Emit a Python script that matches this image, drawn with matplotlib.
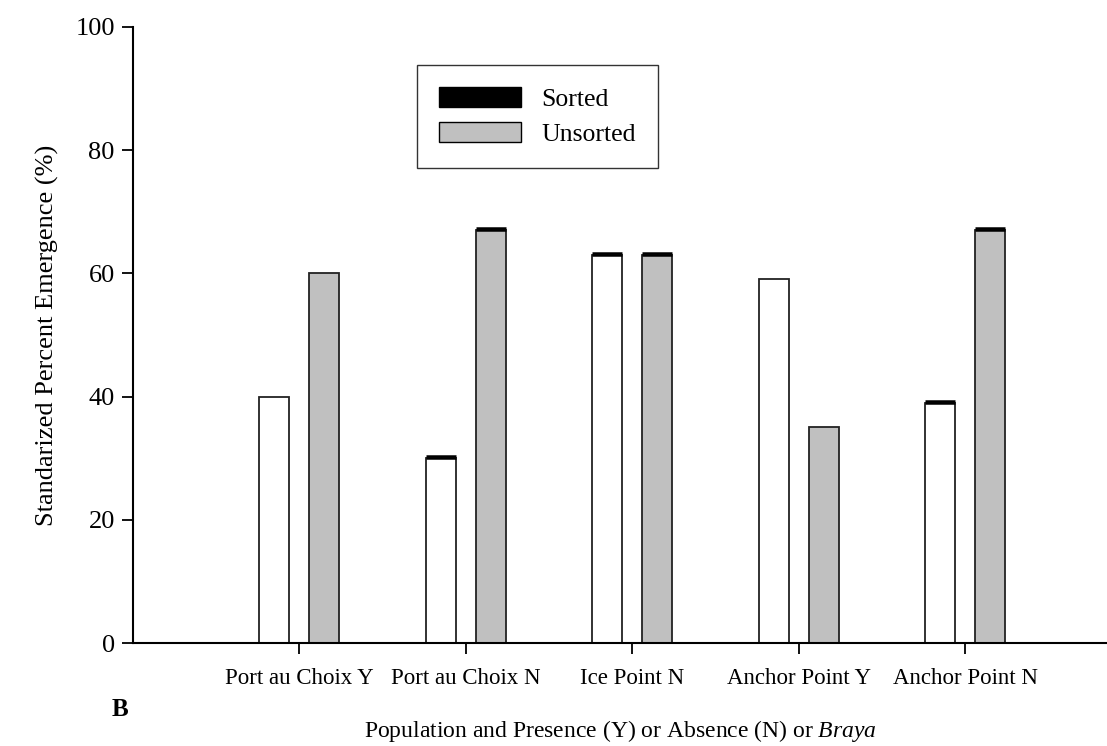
import matplotlib
matplotlib.use("Agg")
import matplotlib.pyplot as plt
import numpy as np
from matplotlib.patches import Patch

plt.rcParams['font.family'] = ['Liberation Serif', 'DejaVu Serif']
plt.rcParams['mathtext.fontset'] = 'custom'
plt.rcParams['mathtext.rm'] = 'Liberation Serif'
plt.rcParams['mathtext.it'] = 'Liberation Serif:italic'

categories = ["Port au Choix Y", "Port au Choix N", "Ice Point N",
              "Anchor Point Y", "Anchor Point N"]
sorted_vals = [40, 30, 63, 59, 39]
unsorted_vals = [60, 67, 63, 35, 67]
sorted_err = [0.0, 0.3, 0.3, 0.0, 0.3]
unsorted_err = [0.0, 0.3, 0.3, 0.0, 0.3]
y_ticks = [0, 20, 40, 60, 80, 100]

fig = plt.figure(figsize=(11.07, 7.46), dpi=100)
ax = fig.add_axes([0.120, 0.138, 0.880, 0.826])

x = np.arange(len(categories))
w = 0.18
off = 0.15


def draw_series(pos, vals, errs, color):
    vals = np.asarray(vals, dtype=float)
    errs = np.asarray(errs, dtype=float)
    ax.bar(pos, vals, w, color=color, edgecolor='#222222', linewidth=1.3, zorder=2)
    m = errs > 0
    ax.errorbar(pos[m], vals[m], yerr=[np.zeros(m.sum()), errs[m]], fmt='none',
                ecolor='black', elinewidth=1.0, capsize=11, capthick=1.8, zorder=3)


draw_series(x - off, sorted_vals, sorted_err, 'white')
draw_series(x + off, unsorted_vals, unsorted_err, '#c0c0c0')

ax.set_xlim(-1, 4.85)
ax.set_ylim(0, 100)
ax.set_yticks(y_ticks)
ax.set_yticklabels([str(t) for t in y_ticks], fontsize=19)
ax.set_xticks(x)
ax.set_xticklabels(categories, fontsize=16.5)
ax.tick_params(axis='both', direction='out', length=8, width=1.3, color='black')
ax.tick_params(axis='x', pad=10)
ax.tick_params(axis='y', pad=5)

for s in ['top', 'right']:
    ax.spines[s].set_visible(False)
for s in ['left', 'bottom']:
    ax.spines[s].set_linewidth(1.5)

ax.set_ylabel("Standarized Percent Emergence (%)", fontsize=19, labelpad=12)
ax.set_xlabel("Population and Presence (Y) or Absence (N) or $\\it{Braya}$",
              fontsize=17, labelpad=21)

handles = [Patch(facecolor='black', edgecolor='black', label='Sorted'),
           Patch(facecolor='#c0c0c0', edgecolor='black', label='Unsorted')]
leg = ax.legend(handles=handles, loc='upper left', bbox_to_anchor=(0.2916, 0.938),
                fontsize=18.5, frameon=True, fancybox=False, handlelength=3.2,
                handleheight=0.8, borderpad=0.85, labelspacing=0.45, handletextpad=0.8,
                borderaxespad=0)
leg.get_frame().set_edgecolor('black')
leg.get_frame().set_linewidth(1.0)

fig.text(0.108, 0.033, "B", fontsize=18, fontweight='bold', ha='center', va='bottom')

fig.savefig("out.png", dpi=100)
